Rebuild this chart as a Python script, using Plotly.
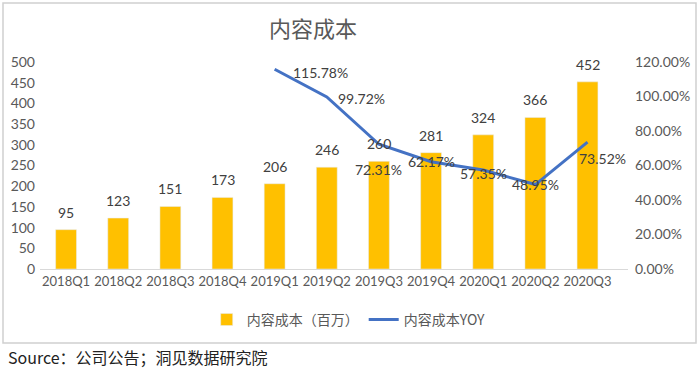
import plotly.graph_objects as go

quarters = ["2018Q1", "2018Q2", "2018Q3", "2018Q4", "2019Q1", "2019Q2",
            "2019Q3", "2019Q4", "2020Q1", "2020Q2", "2020Q3"]
cost = [95, 123, 151, 173, 206, 246, 260, 281, 324, 366, 452]
yoy_quarters = ["2019Q1", "2019Q2", "2019Q3", "2019Q4", "2020Q1", "2020Q2", "2020Q3"]
yoy = [1.1578, 0.9972, 0.7231, 0.6217, 0.5735, 0.4895, 0.7352]

# label placement (styling, not data)
lab_anchor = ["left", "left", "center", "center", "center", "center", "center"]
lab_xshift = [16, 9, 0, 0, 0, 0, 15]
lab_yshift = [-3, -2, -25, 0, -3, 0, -16]

FONT = "Lato, 'Noto Sans CJK SC', sans-serif"
CJK = "'Noto Sans CJK SC', sans-serif"

fig = go.Figure()
fig.add_trace(go.Bar(
    x=quarters, y=cost, name="内容成本（百万）",
    marker_color="#FFC000", width=0.4,
))
fig.add_trace(go.Scatter(
    x=yoy_quarters, y=yoy, name="内容成本YOY", yaxis="y2",
    mode="lines", line=dict(color="#4472C4", width=3),
    cliponaxis=False,
))

annotations = []
for q, v in zip(quarters, cost):
    annotations.append(dict(
        x=q, y=v, xref="x", yref="y", text=str(v), showarrow=False,
        xanchor="center", yanchor="bottom", yshift=7,
        font=dict(size=14, color="#404040", family=FONT)))
for q, v, a, xs, ys in zip(yoy_quarters, yoy, lab_anchor, lab_xshift, lab_yshift):
    annotations.append(dict(
        x=q, y=v, xref="x", yref="y2", text=f"{v*100:.2f}%", showarrow=False,
        xanchor=a, yanchor="middle", xshift=xs, yshift=ys,
        font=dict(size=14, color="#404040", family=FONT)))

annotations += [
    dict(text="内容成本", xref="paper", yref="paper", x=(313 - 40) / 588,
         y=(269 - 27) / 207, showarrow=False, xanchor="center", yanchor="middle",
         font=dict(size=22, color="#595959", family=CJK)),
    dict(text="Source：公司公告；洞见数据研究院", xref="paper", yref="paper",
         x=(6 - 40) / 588, y=(269 - 357) / 207, showarrow=False,
         xanchor="left", yanchor="middle",
         font=dict(size=16, color="#222222", family=CJK)),
]

fig.update_layout(
    width=700, height=374,
    margin=dict(l=40, r=72, t=62, b=105),
    paper_bgcolor="white", plot_bgcolor="white",
    showlegend=True,
    legend=dict(orientation="h", x=0.525, y=-0.246, xanchor="center", yanchor="middle",
                font=dict(size=14, color="#595959", family=CJK)),
    xaxis=dict(type="category", showgrid=False, showline=True, linecolor="#D9D9D9",
               linewidth=1, ticks="", automargin=False, tickangle=0,
               tickfont=dict(size=13, color="#595959", family=FONT)),
    yaxis=dict(range=[0, 500], dtick=50, showgrid=False, zeroline=False, showline=False,
               automargin=False, ticklabelstandoff=4,
               tickfont=dict(size=14, color="#595959", family=FONT)),
    yaxis2=dict(range=[0, 1.2], dtick=0.2, tickformat=".2%", overlaying="y", side="right",
                showgrid=False, zeroline=False, showline=False, automargin=False,
                ticklabelstandoff=6,
                tickfont=dict(size=14, color="#595959", family=FONT)),
    annotations=annotations,
    shapes=[
        dict(type="rect", xref="paper", yref="paper",
             x0=(3 - 40) / 588, x1=(696 - 40) / 588,
             y0=(269 - 343) / 207, y1=(269 - 3) / 207,
             line=dict(color="#D0D0D0", width=1.5), fillcolor="rgba(0,0,0,0)", layer="below"),
    ],
)

fig.write_html("out.html", config={"displayModeBar": False},
               post_script="document.body.style.margin='0';")
